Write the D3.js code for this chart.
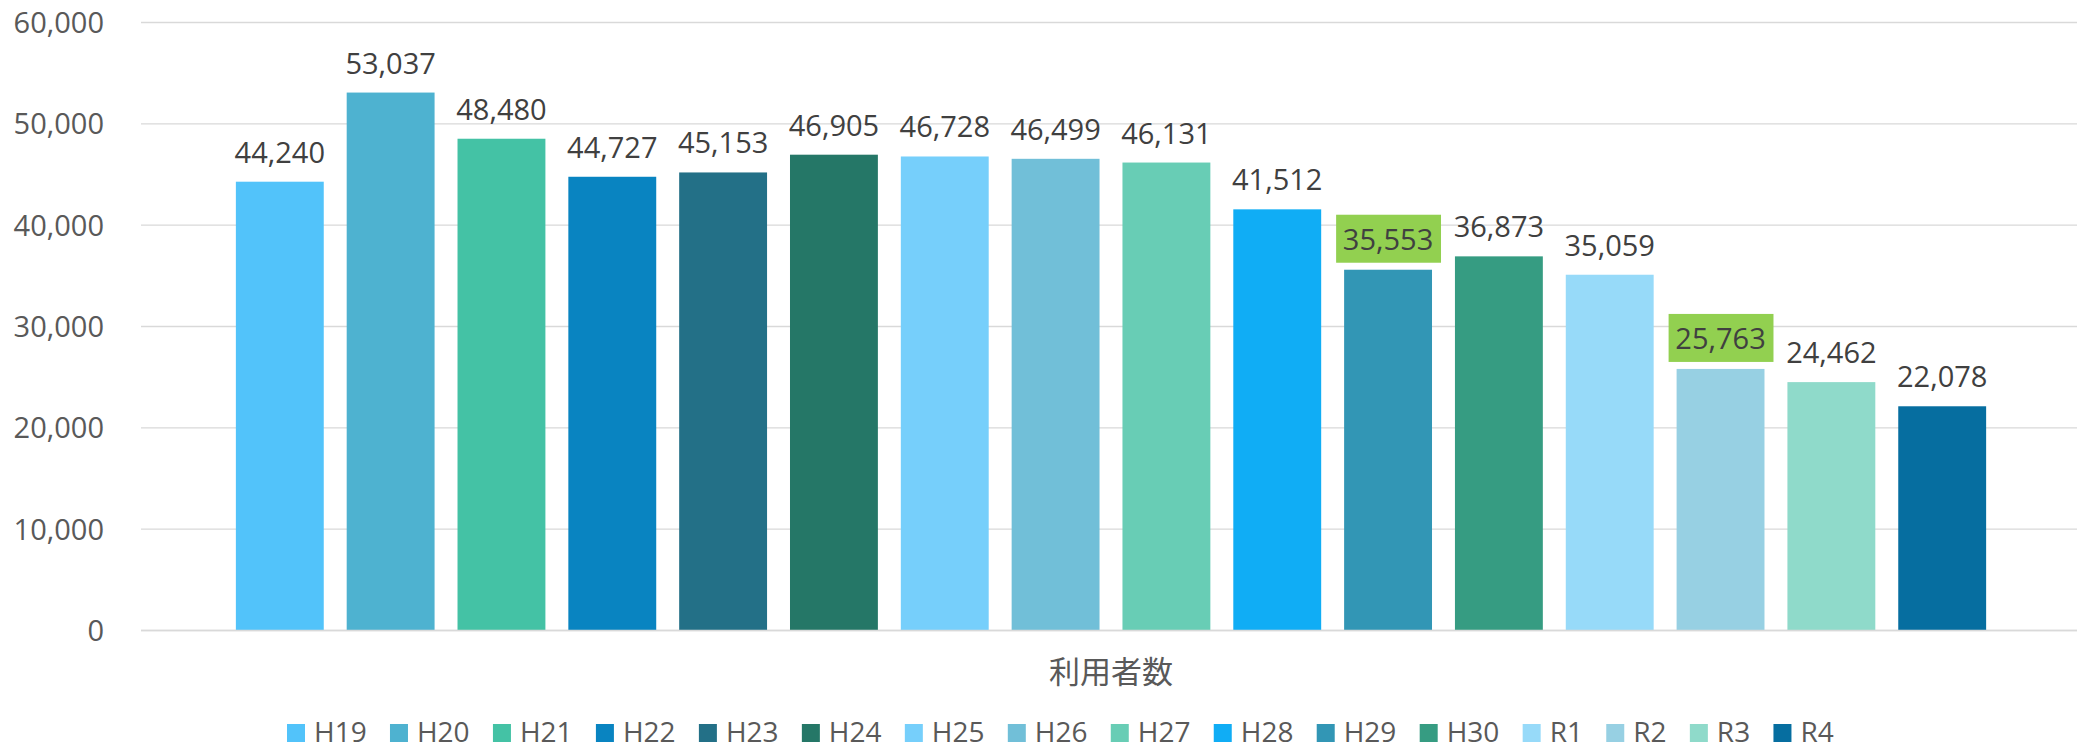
<!DOCTYPE html>
<html>
<head>
<meta charset="utf-8">
<script src="https://cdn.jsdelivr.net/npm/d3@7"></script>
<style>
  html, body { margin: 0; padding: 0; background: #ffffff; }
  svg { display: block; }
</style>
</head>
<body>
<svg id="chart" width="2077" height="750"></svg>
<script>
// ---- data ----
const category = "利用者数";
const seriesNames = ["H19","H20","H21","H22","H23","H24","H25","H26","H27","H28","H29","H30","R1","R2","R3","R4"];
const seriesValues = [44240, 53037, 48480, 44727, 45153, 46905, 46728, 46499, 46131, 41512, 35553, 36873, 35059, 25763, 24462, 22078];
const seriesColors = ["#52C3FA","#4EB2D0","#44C2A5","#0984C1","#237087","#257767","#76CFFB","#71BFD8","#68CDB5","#10ADF5","#3296B5","#369C82","#97DAF9","#97D0E3","#8FDACA","#066EA0"];
const highlighted = ["H29","R2"];
const yTicks = [0, 10000, 20000, 30000, 40000, 50000, 60000];

// ---- layout ----
const W = 2077, H = 750;
const plotLeft = 141, plotRight = 2081, plotTop = 22, plotBottom = 630;
const latin = "'Open Sans', 'Noto Sans', sans-serif";
const cjk = "'Noto Sans CJK JP', 'Noto Sans', sans-serif";

const svg = d3.select("#chart");
const data = seriesNames.map((n, i) => ({ name: n, value: seriesValues[i], color: seriesColors[i] }));

const y = d3.scaleLinear().domain([0, 60000]).range([plotBottom, plotTop]);
const x = d3.scaleBand().domain(seriesNames).range([plotLeft, plotRight])
  .paddingInner(0.207).paddingOuter(0.856);

// gridlines + tick labels
const yAxis = d3.axisLeft(y).tickValues(yTicks).tickFormat(d3.format(","))
  .tickSizeInner(-(W - plotLeft)).tickSizeOuter(0).tickPadding(37);
const gAxis = svg.append("g").attr("transform", `translate(${plotLeft},0)`).call(yAxis);
gAxis.select(".domain").remove();
gAxis.selectAll(".tick line").attr("stroke", "#d9d9d9").attr("stroke-width", 1.4);
gAxis.selectAll(".tick text")
  .attr("fill", "#595959").attr("font-family", latin).attr("font-size", 29)
  .attr("dy", "0.36em");

// bars
svg.append("g").selectAll("rect").data(data).join("rect")
  .attr("x", d => x(d.name))
  .attr("width", x.bandwidth())
  .attr("y", d => y(d.value))
  .attr("height", d => y(0) - y(d.value))
  .attr("fill", d => d.color);

// axis line at zero
svg.append("line")
  .attr("x1", plotLeft).attr("x2", W)
  .attr("y1", y(0) + 0.5).attr("y2", y(0) + 0.5)
  .attr("stroke", "#d9d9d9").attr("stroke-width", 1.5);

// data labels
const gLabels = svg.append("g");
data.forEach(d => {
  const cx = x(d.name) + x.bandwidth() / 2;
  const isHi = highlighted.includes(d.name);
  const baseY = y(d.value) - (isHi ? 20 : 19);
  if (isHi) {
    gLabels.append("rect")
      .attr("x", x(d.name) - 8)
      .attr("width", x.bandwidth() + 17)
      .attr("y", y(d.value) - 55)
      .attr("height", 48)
      .attr("fill", "#92D050");
  }
  gLabels.append("text")
    .attr("x", cx).attr("y", baseY)
    .attr("text-anchor", "middle")
    .attr("fill", "#404040").attr("font-family", latin).attr("font-size", 29)
    .text(d3.format(",")(d.value));
});

// category label
svg.append("text")
  .attr("x", (x(seriesNames[0]) + x(seriesNames[seriesNames.length - 1]) + x.bandwidth()) / 2)
  .attr("y", 683)
  .attr("text-anchor", "middle")
  .attr("fill", "#595959").attr("font-family", cjk).attr("font-size", 31)
  .text(category);

// legend
const gLeg = svg.append("g");
let lx = 287;
data.forEach(d => {
  gLeg.append("rect").attr("x", lx).attr("y", 724).attr("width", 18).attr("height", 18).attr("fill", d.color);
  const t = gLeg.append("text").attr("x", lx + 27).attr("y", 742)
    .attr("fill", "#595959").attr("font-family", latin).attr("font-size", 28)
    .text(d.name);
  lx += 27 + t.node().getComputedTextLength() + 23.3;
});
</script>
</body>
</html>
